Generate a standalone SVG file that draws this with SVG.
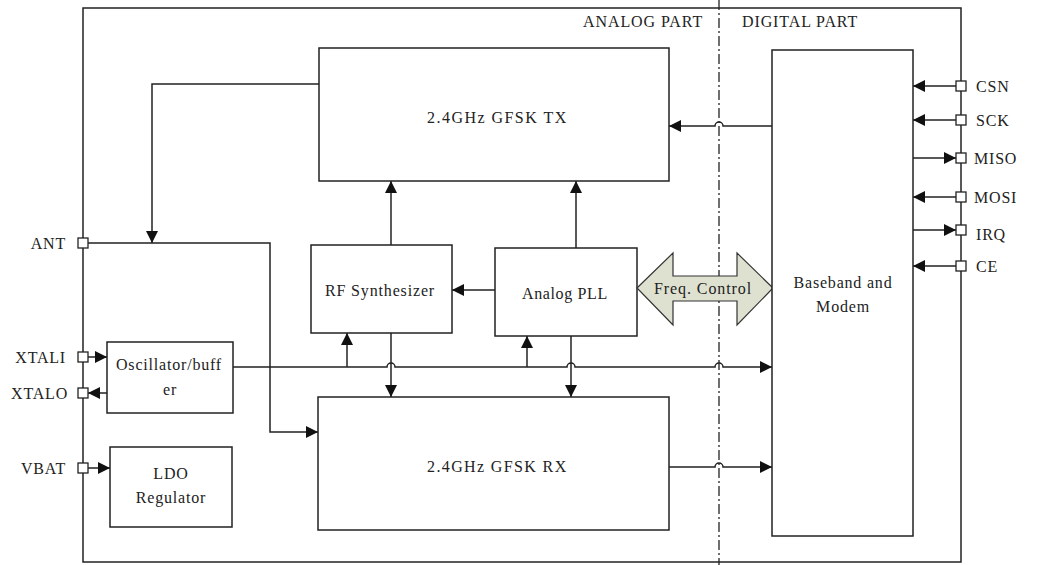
<svg xmlns="http://www.w3.org/2000/svg" width="1037" height="565" viewBox="0 0 1037 565">
<style>
.box{fill:#fff;stroke:#222;stroke-width:1.5}
.ln{fill:none;stroke:#222;stroke-width:1.5}
.arr{fill:none;stroke:#222;stroke-width:1.5;marker-end:url(#ah)}
.pin{fill:#fff;stroke:#222;stroke-width:1.3}
text{font-family:"Liberation Serif","Times New Roman",serif;font-size:16px;letter-spacing:0.8px;fill:#222}
.c{text-anchor:middle}
.e{text-anchor:end}
</style>
<defs>
<marker id="ah" markerUnits="userSpaceOnUse" markerWidth="12" markerHeight="12" viewBox="0 0 10 10" refX="10" refY="5" orient="auto">
<path d="M0,0 L10,5 L0,10 z" fill="#111"/>
</marker>
</defs>
<rect width="1037" height="565" fill="#fff"/>
<g id="frame">
<rect class="ln" x="83" y="8" width="878" height="554"/>
<line x1="719" y1="0" x2="719" y2="565" stroke="#222" stroke-width="1.3" stroke-dasharray="10,3,2,3"/>
<text x="583" y="27" textLength="120" lengthAdjust="spacing">ANALOG PART</text>
<text x="742" y="27" textLength="116" lengthAdjust="spacing">DIGITAL PART</text>
</g>
<g id="connectors">
<path class="arr" d="M319,84 H152 V243"/>
<path class="arr" d="M88,243 H270 V432 H318"/>
<path class="arr" d="M391,245 V181"/>
<path class="arr" d="M576,248 V181"/>
<path class="arr" d="M495,290 H452"/>
<path class="arr" d="M772,126 H723 A4,4 0 0 0 715,126 H669"/>
<path class="arr" d="M233,367 H387 A4,4 0 0 1 395,367 H567 A4,4 0 0 1 575,367 H715 A4,4 0 0 1 723,367 H772"/>
<path class="arr" d="M347,367 V333"/>
<path class="arr" d="M527,367 V336"/>
<path class="arr" d="M391,333 V397"/>
<path class="arr" d="M571,336 V397"/>
<path class="arr" d="M669,467 H715 A4,4 0 0 1 723,467 H772"/>
<path class="arr" d="M88,357 H107"/>
<path class="arr" d="M107,393 H88"/>
<path class="arr" d="M88,468 H110"/>
<path class="arr" d="M956,86 H913"/>
<path class="arr" d="M956,120 H913"/>
<path class="arr" d="M913,158 H956"/>
<path class="arr" d="M956,197 H913"/>
<path class="arr" d="M913,230 H956"/>
<path class="arr" d="M956,266 H913"/>
</g>
<g id="tx"><rect class="box" x="319" y="48" width="350" height="133"/><text x="427" y="123" textLength="140" lengthAdjust="spacing">2.4GHz GFSK TX</text></g>
<g id="rfsynth"><rect class="box" x="311" y="245" width="141" height="88"/><text x="325" y="296" textLength="110" lengthAdjust="spacing">RF Synthesizer</text></g>
<g id="pll"><rect class="box" x="495" y="248" width="142" height="88"/><text x="522" y="299" textLength="86" lengthAdjust="spacing">Analog PLL</text></g>
<g id="freq"><polygon points="637,288 673,253 673,276 737,276 737,253 773,288 737,325 737,301 673,301 673,325" fill="#dfe1d0" stroke="#333" stroke-width="1.2"/><text x="654" y="294" textLength="98" lengthAdjust="spacing">Freq. Control</text></g>
<g id="baseband"><rect class="box" x="772" y="50" width="141" height="486"/><text x="843" y="288" class="c">Baseband and</text><text x="843" y="312" class="c">Modem</text></g>
<g id="osc"><rect class="box" x="107" y="342" width="126" height="71"/><text x="116" y="370" textLength="106" lengthAdjust="spacing">Oscillator/buff</text><text x="170" y="395" class="c">er</text></g>
<g id="rx"><rect class="box" x="318" y="397" width="351" height="133"/><text x="427" y="472" textLength="140" lengthAdjust="spacing">2.4GHz GFSK RX</text></g>
<g id="ldo"><rect class="box" x="110" y="447" width="122" height="80"/><text x="171" y="479" class="c">LDO</text><text x="171" y="503" class="c">Regulator</text></g>
<g id="pins">
<rect class="pin" x="78" y="238" width="10" height="10"/><text x="66" y="249" class="e">ANT</text>
<rect class="pin" x="78" y="352" width="10" height="10"/><text x="66" y="363" class="e">XTALI</text>
<rect class="pin" x="78" y="388" width="10" height="10"/><text x="68" y="399" class="e">XTALO</text>
<rect class="pin" x="78" y="463" width="10" height="10"/><text x="66" y="474" class="e">VBAT</text>
<rect class="pin" x="956" y="81" width="10" height="10"/><text x="976" y="92">CSN</text>
<rect class="pin" x="956" y="115" width="10" height="10"/><text x="976" y="126">SCK</text>
<rect class="pin" x="956" y="153" width="10" height="10"/><text x="974" y="164">MISO</text>
<rect class="pin" x="956" y="192" width="10" height="10"/><text x="974" y="203">MOSI</text>
<rect class="pin" x="956" y="225" width="10" height="10"/><text x="976" y="240">IRQ</text>
<rect class="pin" x="956" y="261" width="10" height="10"/><text x="976" y="272">CE</text>
</g>
</svg>
